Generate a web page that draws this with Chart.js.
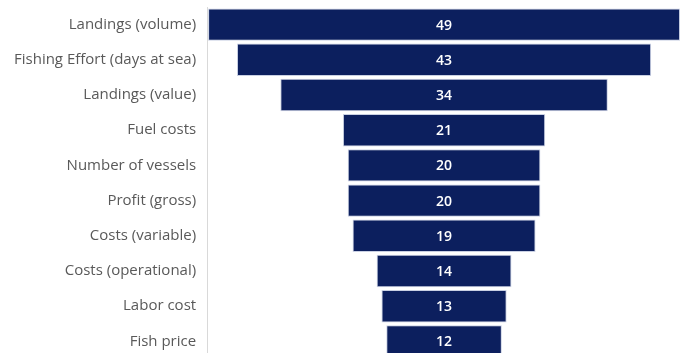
<!DOCTYPE html>
<html>
<head>
<meta charset="utf-8">
<script src="https://cdn.jsdelivr.net/npm/chart.js@4/dist/chart.umd.min.js"></script>
<style>
  html, body { margin: 0; padding: 0; background: #fff; overflow: hidden; }
  #wrap { position: absolute; left: 0; top: -13px; width: 686px; height: 392px; }
</style>
</head>
<body>
<div id="wrap"><canvas id="funnelChart"></canvas></div>
<script>
// funnel of indicators, widest at the top
var categories = [
    'Landings (volume)',
    'Fishing Effort (days at sea)',
    'Landings (value)',
    'Fuel costs',
    'Number of vessels',
    'Profit (gross)',
    'Costs (variable)',
    'Costs (operational)',
    'Labor cost',
    'Fish price'
];
var counts = [49, 43, 34, 21, 20, 20, 19, 14, 13, 12];

// each bar floats symmetrically around zero so the stack reads as a funnel
var spans = counts.map(function (v) { return [-v / 2, v / 2]; });

// writes the count in the middle of each bar
var centerLabels = {
    id: 'centerLabels',
    afterDatasetsDraw: function (chart) {
        var ctx = chart.ctx;
        var meta = chart.getDatasetMeta(0);
        ctx.save();
        ctx.fillStyle = '#ffffff';
        ctx.font = '600 14px "Open Sans"';
        ctx.textAlign = 'center';
        ctx.textBaseline = 'middle';
        meta.data.forEach(function (bar, i) {
            var mid = chart.scales.x.getPixelForValue(0);
            ctx.fillText(String(counts[i]), mid, bar.y + 1);
        });
        ctx.restore();
    }
};

var ctx = document.getElementById('funnelChart').getContext('2d');
var funnelChart = new Chart(ctx, {
    type: 'bar',
    data: {
        labels: categories,
        datasets: [{
            data: spans,
            backgroundColor: '#0c1f5e',
            borderColor: '#c9d0e3',
            borderWidth: 1,
            borderSkipped: false,
            barPercentage: 0.92,
            categoryPercentage: 1
        }]
    },
    options: {
        indexAxis: 'y',
        responsive: true,
        maintainAspectRatio: false,
        animation: false,
        layout: { padding: { left: 3, right: 5, top: 0, bottom: 0 } },
        plugins: {
            legend: { display: false },
            tooltip: { enabled: false }
        },
        scales: {
            x: {
                min: -24.6,
                max: 24.6,
                display: false
            },
            y: {
                grid: { display: false, drawTicks: false },
                border: { display: true, color: '#d9d9d9', width: 1 },
                ticks: {
                    color: '#595959',
                    padding: 11,
                    font: { family: '"Open Sans"', size: 15 }
                }
            }
        }
    },
    plugins: [centerLabels]
});
</script>
</body>
</html>
